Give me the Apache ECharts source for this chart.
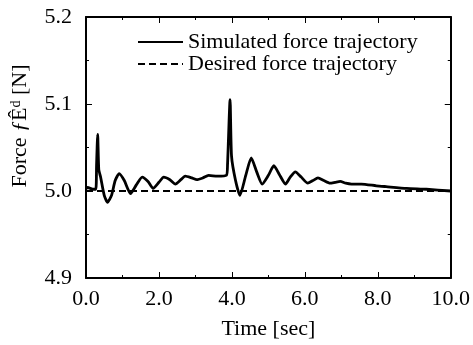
<!DOCTYPE html>
<html>
<head>
<meta charset="utf-8">
<script src="https://cdn.jsdelivr.net/npm/echarts@6/dist/echarts.min.js"></script>
<style>
  html, body { margin: 0; padding: 0; background: #fff; }
  #chart { width: 473px; height: 345px; }
</style>
</head>
<body>
<div id="chart"></div>
<script>
// time axis samples [sec]
const times = [0, 0.05, 0.12, 0.2, 0.27, 0.29, 0.32, 0.35, 0.4, 0.5, 0.59, 0.7, 0.8, 0.91, 1.05, 1.22,
  1.38, 1.54, 1.7, 1.84, 2.0, 2.13, 2.3, 2.45, 2.6, 2.72, 2.9, 3.04, 3.2, 3.36, 3.6, 3.85, 3.88, 3.95,
  3.99, 4.1, 4.22, 4.38, 4.53, 4.68, 4.83, 5.0, 5.15, 5.3, 5.47, 5.6, 5.74, 5.9, 6.08, 6.22, 6.36,
  6.52, 6.69, 6.83, 6.97, 7.12, 7.28, 7.55, 7.96, 8.23, 8.79, 9.33, 10]

// simulated force [N]
const simulated = [5.003, 5.004, 5.003, 5.002, 5.002, 5.030, 5.065, 5.025, 5.016, 4.995, 4.987, 4.995,
  5.012, 5.020, 5.012, 4.997, 5.007, 5.016, 5.011, 5.003, 5.010, 5.016, 5.013, 5.008, 5.013, 5.017,
  5.015, 5.013, 5.015, 5.018, 5.017, 5.018, 5.030, 5.105, 5.040, 5.012, 4.995, 5.018, 5.038, 5.022,
  5.008, 5.018, 5.029, 5.019, 5.008, 5.016, 5.022, 5.016, 5.009, 5.012, 5.015, 5.012, 5.009, 5.010,
  5.011, 5.009, 5.008, 5.008, 5.006, 5.005, 5.003, 5.002, 5.000]

// desired force [N]
const desiredTimes = [0, 10]
const desired = [5.0, 5.0]

const seriesNames = ['Simulated force trajectory', 'Desired force trajectory']

const font = 'Liberation Serif'
const black = '#000'

const chart = echarts.init(document.getElementById('chart'))

const frameAxis = {
  axisLine: { show: true, onZero: false, lineStyle: { color: black, width: 2 } },
  axisTick: { inside: true, length: 6, lineStyle: { color: black, width: 1 } },
  minorTick: { show: true, splitNumber: 2, length: 3, lineStyle: { color: black, width: 1 } },
  splitLine: { show: false }
}

chart.setOption({
  animation: false,
  grid: { left: 86, right: 20, top: 17, bottom: 65, containLabel: false },
  legend: {
    orient: 'vertical',
    left: 137,
    top: 31,
    padding: 0,
    itemWidth: 45,
    itemHeight: 14,
    itemGap: 0,
    itemStyle: { opacity: 0 },
    textStyle: { fontFamily: font, fontSize: 22, color: black },
    data: seriesNames
  },
  xAxis: [
    Object.assign({}, frameAxis, {
      type: 'value',
      min: 0,
      max: 10,
      interval: 2,
      name: 'Time [sec]',
      nameLocation: 'middle',
      nameGap: 40,
      nameTextStyle: { fontFamily: font, fontSize: 22, color: black },
      axisLabel: {
        margin: 10,
        fontFamily: font, fontSize: 22, color: black,
        formatter: v => v.toFixed(1)
      }
    }),
    Object.assign({}, frameAxis, {
      type: 'value',
      position: 'top',
      min: 0,
      max: 10,
      interval: 2,
      axisLabel: { show: false }
    })
  ],
  yAxis: [
    Object.assign({}, frameAxis, {
      type: 'value',
      min: 4.9,
      max: 5.2,
      interval: 0.1,
      axisLabel: {
        margin: 14,
        fontFamily: font, fontSize: 22, color: black,
        formatter: v => v.toFixed(1)
      }
    }),
    Object.assign({}, frameAxis, {
      type: 'value',
      position: 'right',
      min: 4.9,
      max: 5.2,
      interval: 0.1,
      axisLabel: { show: false }
    })
  ],
  graphic: [
    {
      type: 'text',
      x: 20,
      y: 126,
      rotation: Math.PI / 2,
      style: {
        text: 'Force {i|ƒ}Ê{sup|d} [N]',
        fontFamily: font,
        fontSize: 22,
        fill: black,
        align: 'center',
        verticalAlign: 'middle',
        rich: {
          i: { fontFamily: font, fontSize: 22, fontStyle: 'italic', fill: black },
          sup: { fontFamily: font, fontSize: 14, fill: black, verticalAlign: 'top', padding: [0, 0, 8, 0] }
        }
      }
    }
  ],
  series: [
    {
      name: seriesNames[0],
      type: 'line',
      xAxisIndex: 0,
      yAxisIndex: 0,
      data: times.map((t, i) => [t, simulated[i]]),
      symbol: 'none',
      smooth: 0.2,
      lineStyle: { color: black, width: 2.8 },
      itemStyle: { color: black },
      z: 3
    },
    {
      name: seriesNames[1],
      type: 'line',
      xAxisIndex: 0,
      yAxisIndex: 0,
      data: desiredTimes.map((t, i) => [t, desired[i]]),
      symbol: 'none',
      lineStyle: { color: black, width: 2, type: [7, 4] },
      itemStyle: { color: black },
      z: 2
    }
  ]
})
</script>
</body>
</html>
